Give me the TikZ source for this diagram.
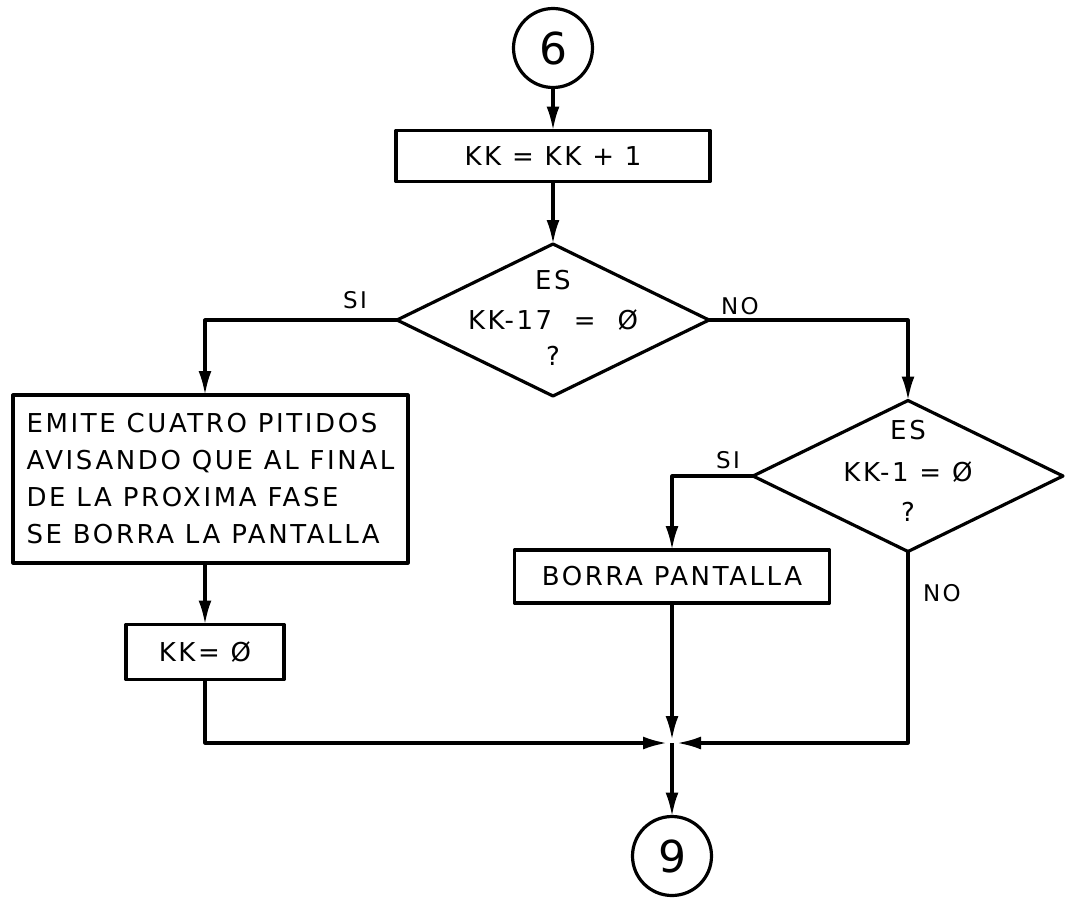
\documentclass[tikz,border=0pt]{standalone}
\usepackage{fontspec}
\setmainfont{DejaVu Sans}
\newfontfamily\hand[LetterSpace=10]{DejaVu Sans}
\usetikzlibrary{shapes.geometric,arrows.meta}
\begin{document}
\begin{tikzpicture}[x=1pt,y=-1pt,
  line width=3.2pt, line join=round,
  every node/.style={inner sep=0pt, outer sep=0pt},
  txt/.style={font=\hand\fontsize{26}{37}\selectfont},
  conn/.style={circle,draw,minimum size=79pt,font=\fontsize{44}{44}\selectfont},
  procbox/.style={rectangle,draw,txt},
  dec/.style={diamond,draw,minimum width=312pt,minimum height=152pt},
  dtxt/.style={font=\hand\fontsize{26}{26}\selectfont},
  lbl/.style={font=\hand\fontsize{23}{23}\selectfont},
  arr/.style={-{Latex[length=24pt,width=13pt]}}]
\useasboundingbox (0,0) rectangle (1065,897);

% nodes
\node[conn] (c6) at (553,48) {6};
\node[procbox, minimum width=314pt, minimum height=51pt] (b1) at (553,156) {KK = KK + 1};
\node[dec] (d1) at (553,320) {};
\node[dtxt] (d1a) at (553,280) {ES};
\node[dtxt] (d1b) at (553,320) {KK-17 \ = \ Ø};
\node[dtxt] (d1c) at (553,356) {?};

\node[procbox, minimum width=395pt, minimum height=168pt, align=left] (emite) at (210.5,479)
  {EMITE CUATRO PITIDOS\\AVISANDO QUE AL FINAL\\DE LA PROXIMA FASE\\SE BORRA LA PANTALLA};
\node[procbox, minimum width=158pt, minimum height=55pt] (kk0) at (205,652) {KK= Ø};

\node[dec, minimum width=310pt, minimum height=151pt] (d2) at (908,476) {};
\node[dtxt] (d2a) at (908,430) {ES};
\node[dtxt] (d2b) at (908,472) {KK-1 = Ø};
\node[dtxt] (d2c) at (908,512) {?};

\node[procbox, minimum width=315pt, minimum height=53pt] (borra) at (672,576.5) {BORRA PANTALLA};

\coordinate (J) at (672,743);
\node[conn] (c9) at (672,856) {9};

% labels
\node[lbl] (si1) at (355,300) {SI};
\node[lbl] (no1) at (740,306) {NO};
\node[lbl] (si2) at (728,460) {SI};
\node[lbl] (no2) at (942,593) {NO};

% connectors
\draw[arr] (c6) -- (b1);
\draw[arr] (b1) -- (d1);
\draw[arr] (d1.west) -| (kk0.north |- emite.north);
\draw[arr] (kk0.north |- emite.south) -- (kk0.north);
\draw[arr, shorten >=5pt] (kk0.south) |- (J);
\draw[arr] (d1.east) -| (d2.north);
\draw[arr] (d2.west) -| (borra.north);
\draw[arr, shorten >=3pt] (borra.south) -- (J);
\draw[arr, shorten >=5pt] (d2.south) |- (J);
\draw[arr] (J) -- (c9.north);
\end{tikzpicture}
\end{document}
